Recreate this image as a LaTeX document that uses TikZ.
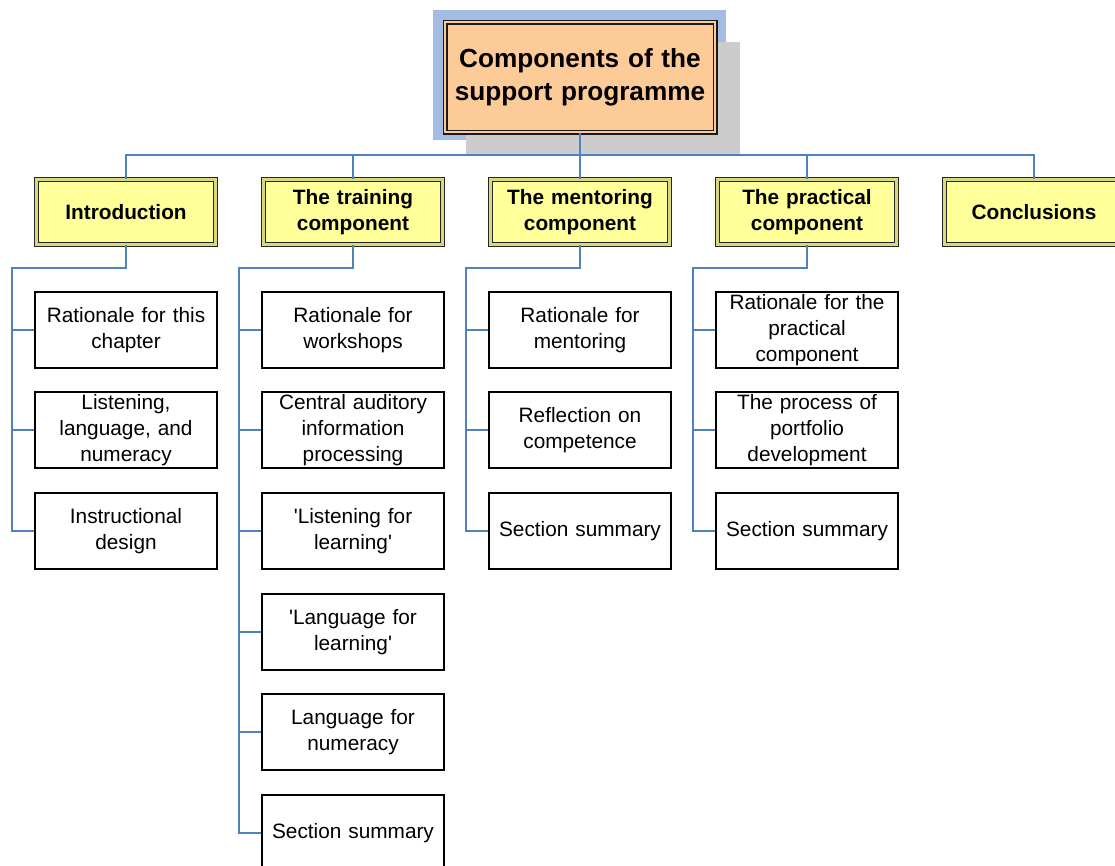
\documentclass[tikz,border=0pt]{standalone}
\usepackage{fontspec}
\setmainfont{Liberation Sans}
\definecolor{linkblue}{HTML}{4F81BD}
\definecolor{topfill}{HTML}{FCCB97}
\definecolor{topblue}{HTML}{A3BCE3}
\definecolor{shadowgray}{HTML}{CCCCCC}
\definecolor{secfill}{HTML}{FFFF99}
\definecolor{secband}{HTML}{D9D97A}
\tikzset{
  link/.style={draw=linkblue, line width=1.8pt},
  topbox/.style={draw=black!90, line width=1.2pt, double=topfill, double distance=2.6pt, fill=topfill,
    minimum width=270pt, minimum height=110pt, text width=265pt, align=center,
    font=\bfseries\fontsize{26.2}{33}\selectfont, inner sep=0pt},
  secbox/.style={draw=black!85, line width=1.3pt, double=secband, double distance=2.8pt, fill=secfill,
    minimum width=179pt, minimum height=65pt, text width=175pt, align=center,
    font=\bfseries\fontsize{20.8}{25.5}\selectfont, inner sep=0pt},
  leaf/.style={draw=black, line width=1.3pt, fill=white,
    minimum width=182pt, minimum height=76pt, text width=178pt, align=center,
    font=\fontsize{20.8}{25.8}\selectfont, inner sep=0pt}
}
\begin{document}
\begin{tikzpicture}[x=1pt,y=-1pt]
\useasboundingbox (0,0) rectangle (1115,865);
\clip (0,0) rectangle (1115,865);
% top box decorations
\fill[topblue] (433,10) rectangle (726,140);
\fill[shadowgray] (466,42) rectangle (740,155);
\node[topbox] (top) at (580,77) {Components of the\\support programme};
% sections
\node[secbox] (intro) at (126,212) {Introduction};
\node[secbox] (train) at (353,212) {The training\\component};
\node[secbox] (ment) at (580,212) {The mentoring\\component};
\node[secbox] (prac) at (807,212) {The practical\\component};
\node[secbox] (concl) at (1034,212) {Conclusions};
% top connectors
\coordinate (bus) at (580,155);
\draw[link] (top.south) -- (bus);
\draw[link] (intro.north) |- (bus) -| (concl.north);
\draw[link] (train.north) -- (train.north |- bus);
\draw[link] (ment.north) -- (ment.north |- bus);
\draw[link] (prac.north) -- (prac.north |- bus);
% introduction leaves
\node[leaf] (i1) at (126,330) {Rationale for this\\chapter};
\node[leaf] (i2) at (126,430) {Listening,\\language, and\\numeracy};
\node[leaf] (i3) at (126,531) {Instructional\\design};
\coordinate (bi) at (12,268);
\draw[link] (intro.south) |- (bi) |- (i3.west);
\draw[link] (bi) |- (i1.west);
\draw[link] (bi) |- (i2.west);
% training leaves
\node[leaf] (t1) at (353,330) {Rationale for\\workshops};
\node[leaf] (t2) at (353,430) {Central auditory\\information\\processing};
\node[leaf] (t3) at (353,531) {\textquotesingle Listening for\\learning\textquotesingle};
\node[leaf] (t4) at (353,632) {\textquotesingle Language for\\learning\textquotesingle};
\node[leaf] (t5) at (353,732) {Language for\\numeracy};
\node[leaf] (t6) at (353,833) {Section summary};
\coordinate (bt) at (239,268);
\draw[link] (train.south) |- (bt) |- (t6.west);
\draw[link] (bt) |- (t1.west);
\draw[link] (bt) |- (t2.west);
\draw[link] (bt) |- (t3.west);
\draw[link] (bt) |- (t4.west);
\draw[link] (bt) |- (t5.west);
% mentoring leaves
\node[leaf] (m1) at (580,330) {Rationale for\\mentoring};
\node[leaf] (m2) at (580,430) {Reflection on\\competence};
\node[leaf] (m3) at (580,531) {Section summary};
\coordinate (bm) at (466,268);
\draw[link] (ment.south) |- (bm) |- (m3.west);
\draw[link] (bm) |- (m1.west);
\draw[link] (bm) |- (m2.west);
% practical leaves
\node[leaf] (p1) at (807,330) {Rationale for the\\practical\\component};
\node[leaf] (p2) at (807,430) {The process of\\portfolio\\development};
\node[leaf] (p3) at (807,531) {Section summary};
\coordinate (bp) at (693,268);
\draw[link] (prac.south) |- (bp) |- (p3.west);
\draw[link] (bp) |- (p1.west);
\draw[link] (bp) |- (p2.west);
\end{tikzpicture}
\end{document}
